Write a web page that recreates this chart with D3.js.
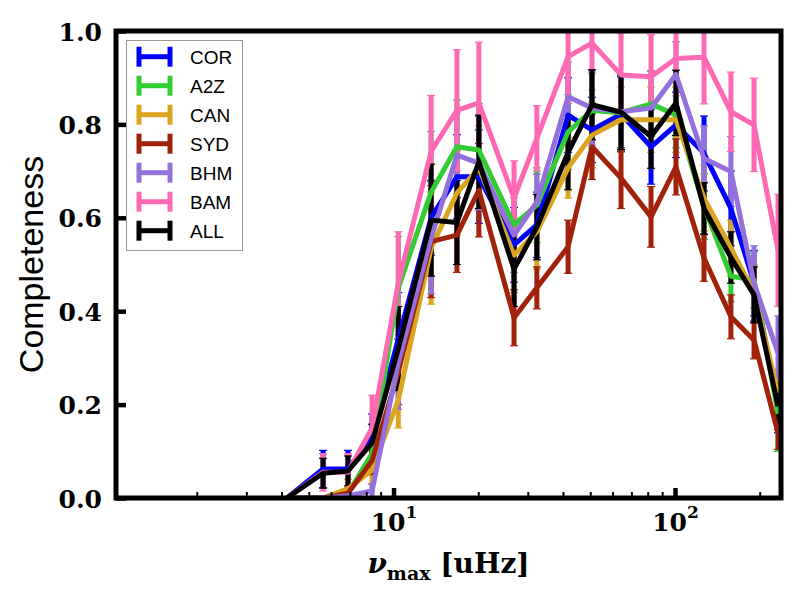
<!DOCTYPE html>
<meta charset="utf-8">
<title>Completeness</title>
<body>
<script src="https://cdn.jsdelivr.net/npm/d3@7"></script>
<style>
html, body {
    margin: 0;
    background: #fff;
}
svg {
    display: block;
}
.axis text {
    font-family: "DejaVu Serif";
    font-weight: bold;
    font-size: 25px;
    fill: #000;
}
.legend text {
    font-family: "Liberation Sans", Arial, sans-serif;
    font-size: 19px;
}
</style>
<svg></svg>
<script>
// bin centres, nu_max in uHz
var numax = [4.18, 5.62, 6.89, 8.39, 10.4, 13.6, 16.8, 20.1, 26.8, 32.3,
             41.7, 50.7, 64.3, 82.2, 100.8, 126.8, 158, 190.9, 232.3];

var cor    = [0, 0.062, 0.062, 0.13, 0.34, 0.60, 0.688, 0.688, 0.542, 0.585, 0.82, 0.788, 0.822, 0.752, 0.799, 0.738, 0.62, 0.46, 0.20];
var corErr = [0, 0.04, 0.04, 0.05, 0.10, 0.08, 0.09, 0.10, 0.08, 0.07, 0.08, 0.07, 0.08, 0.08, 0.07, 0.08, 0.08, 0.07, 0.06];

var a2z    = [0, 0, 0.01, 0.095, 0.45, 0.655, 0.752, 0.745, 0.585, 0.627, 0.784, 0.83, 0.825, 0.844, 0.82, 0.624, 0.475, 0.467, 0.18];
var a2zErr = [0, 0, 0.01, 0.04, 0.11, 0.13, 0.10, 0.10, 0.08, 0.08, 0.08, 0.08, 0.08, 0.07, 0.07, 0.07, 0.055, 0.06, 0.08];

var can    = [0, 0, 0.02, 0.06, 0.21, 0.535, 0.653, 0.707, 0.52, 0.57, 0.707, 0.777, 0.81, 0.81, 0.81, 0.642, 0.535, 0.44, 0.225];
var canErr = [0, 0, 0.02, 0.03, 0.06, 0.12, 0.09, 0.09, 0.08, 0.08, 0.065, 0.07, 0.07, 0.07, 0.07, 0.07, 0.06, 0.06, 0.05];

var syd    = [0, 0, 0.01, 0.08, 0.27, 0.549, 0.563, 0.659, 0.386, 0.45, 0.538, 0.752, 0.685, 0.602, 0.709, 0.514, 0.388, 0.338, 0.139];
var sydErr = [0, 0, 0.01, 0.03, 0.07, 0.12, 0.08, 0.10, 0.06, 0.045, 0.057, 0.07, 0.065, 0.065, 0.06, 0.05, 0.047, 0.04, 0.035];

var bhm    = [0, 0, 0.005, 0.015, 0.29, 0.557, 0.734, 0.717, 0.563, 0.634, 0.859, 0.835, 0.827, 0.835, 0.907, 0.727, 0.699, 0.46, 0.31];
var bhmErr = [0, 0, 0, 0.015, 0.10, 0.12, 0.09, 0.10, 0.08, 0.06, 0.075, 0.08, 0.08, 0.08, 0.07, 0.07, 0.075, 0.08, 0.08];

var bam    = [0, 0.055, 0.055, 0.15, 0.46, 0.742, 0.83, 0.846, 0.642, 0.77, 0.945, 0.974, 0.906, 0.902, 0.941, 0.944, 0.827, 0.799, 0.53];
var bamErr = [0, 0.04, 0.04, 0.07, 0.11, 0.12, 0.13, 0.13, 0.08, 0.07, 0.10, 0.10, 0.09, 0.09, 0.08, 0.10, 0.085, 0.10, 0.12];

var all    = [0, 0.053, 0.058, 0.118, 0.32, 0.595, 0.59, 0.72, 0.49, 0.58, 0.74, 0.842, 0.826, 0.774, 0.846, 0.62, 0.515, 0.435, 0.196];
var allErr = [0, 0.032, 0.032, 0.04, 0.09, 0.12, 0.09, 0.10, 0.08, 0.07, 0.08, 0.075, 0.08, 0.068, 0.07, 0.055, 0.055, 0.06, 0.05];

var names  = ["COR", "A2Z", "CAN", "SYD", "BHM", "BAM", "ALL"];
var colors = ["#0000ff", "#32cd32", "#daa520", "#a0220a", "#9370db", "#ff69b4", "#000000"];

var yTicks = [0, 0.2, 0.4, 0.6, 0.8, 1.0];
var xMajor = [10, 100];
var xMinor = [2, 3, 4, 5, 6, 7, 8, 9, 20, 30, 40, 50, 60, 70, 80, 90, 200];

var width = 800,
    height = 600,
    pL = 116,
    pR = 781,
    pT = 31,
    pB = 498,
    lw = 5;

var series = [
    {values: cor, err: corErr},
    {values: a2z, err: a2zErr},
    {values: can, err: canErr},
    {values: syd, err: sydErr},
    {values: bhm, err: bhmErr},
    {values: bam, err: bamErr},
    {values: all, err: allErr}
].map(function(s, k) {
    s.name = names[k];
    s.color = colors[k];
    s.points = numax.map(function(v, i) {
        return {x: v, y: s.values[i], e: s.err[i]};
    });
    return s;
});

var x = d3.scaleLog()
    .domain([1.033, 238])
    .range([pL, pR]);

var y = d3.scaleLinear()
    .domain([0, 1])
    .range([pB, pT]);

var svg = d3.select("svg")
    .attr("width", width)
    .attr("height", height)
    .style("background", "#fff");

svg.append("clipPath")
    .attr("id", "clip")
  .append("rect")
    .attr("x", pL)
    .attr("y", pT)
    .attr("width", pR - pL)
    .attr("height", pB - pT);

var plot = svg.append("g")
    .attr("clip-path", "url(#clip)");

// error bars sit below every data line (matplotlib zorder)
var bars = plot.selectAll(".bars")
    .data(series)
    .enter().append("g")
    .attr("class", "bars")
    .attr("stroke", function(d) { return d.color; });

var bar = bars.selectAll("g")
    .data(function(d) { return d.points.filter(function(p) { return p.e > 0; }); })
    .enter().append("g");

bar.append("line")
    .attr("x1", function(d) { return x(d.x); })
    .attr("x2", function(d) { return x(d.x); })
    .attr("y1", function(d) { return y(d.y - d.e); })
    .attr("y2", function(d) { return y(d.y + d.e); })
    .attr("stroke-width", lw);

[-1, 1].forEach(function(sgn) {
    bar.append("line")
        .attr("x1", function(d) { return x(d.x) - 4; })
        .attr("x2", function(d) { return x(d.x) + 4; })
        .attr("y1", function(d) { return y(d.y + sgn * d.e); })
        .attr("y2", function(d) { return y(d.y + sgn * d.e); })
        .attr("stroke-width", 1.2);
});

var line = d3.line()
    .x(function(d) { return x(d.x); })
    .y(function(d) { return y(d.y); });

plot.selectAll(".series")
    .data(series)
    .enter().append("path")
    .attr("class", "series")
    .attr("d", function(d) { return line(d.points); })
    .attr("fill", "none")
    .attr("stroke", function(d) { return d.color; })
    .attr("stroke-width", lw)
    .attr("stroke-linejoin", "round");

// axes
var yAxis = svg.append("g")
    .attr("class", "axis")
    .attr("transform", "translate(" + pL + ",0)")
    .call(d3.axisLeft(y).tickValues(yTicks).tickSize(-10).tickPadding(14).tickFormat(d3.format(".1f")));

yAxis.selectAll(".tick line").attr("stroke-width", 4.5);
yAxis.selectAll(".tick text").attr("dy", "0.36em");

var xMinorAxis = svg.append("g")
    .attr("class", "axis")
    .attr("transform", "translate(0," + pB + ")")
    .call(d3.axisBottom(x).tickValues(xMinor).tickSize(-6).tickFormat(""));

xMinorAxis.selectAll(".tick line").attr("stroke-width", 2);

var xAxis = svg.append("g")
    .attr("class", "axis")
    .attr("transform", "translate(0," + pB + ")")
    .call(d3.axisBottom(x).tickValues(xMajor).tickSize(-10).tickFormat(""));

xAxis.selectAll(".tick line").attr("stroke-width", 4.5);

xAxis.selectAll(".tick text")
    .attr("y", 33)
    .attr("dy", null)
    .each(function(d) {
        var t = d3.select(this);
        t.append("tspan").text("10");
        t.append("tspan")
            .attr("dy", -13)
            .attr("font-size", "17px")
            .text(Math.round(Math.log10(d)));
    });

svg.selectAll(".axis .domain").remove();

// spines
svg.append("rect")
    .attr("x", pL)
    .attr("y", pT)
    .attr("width", pR - pL)
    .attr("height", pB - pT)
    .attr("fill", "none")
    .attr("stroke", "#000")
    .attr("stroke-width", 5);

// axis labels
svg.append("text")
    .attr("transform", "translate(43," + (pT + pB) / 2 + ")rotate(-90)")
    .attr("text-anchor", "middle")
    .style("font-family", "'Liberation Sans', Arial, sans-serif")
    .style("font-size", "34px")
    .text("Completeness");

var xl = svg.append("text")
    .attr("x", (pL + pR) / 2)
    .attr("y", 573)
    .attr("text-anchor", "middle")
    .style("font-family", "'DejaVu Serif'")
    .style("font-weight", "bold")
    .style("font-size", "28px");

xl.append("tspan")
    .style("font-style", "italic")
    .text("\u03bd");
xl.append("tspan")
    .attr("dy", 7)
    .style("font-size", "19px")
    .text("max");
xl.append("tspan")
    .attr("dy", -7)
    .text("\u00a0[uHz]");

// legend
var legend = svg.append("g")
    .attr("class", "legend");

legend.append("rect")
    .attr("x", 126.5)
    .attr("y", 40.5)
    .attr("width", 116)
    .attr("height", 210)
    .attr("fill", "#fff")
    .attr("stroke", "#999")
    .attr("stroke-width", 1);

var item = legend.selectAll(".item")
    .data(series)
    .enter().append("g")
    .attr("class", "item")
    .attr("transform", function(d, i) { return "translate(0," + (56.7 + i * 29) + ")"; })
    .attr("stroke", function(d) { return d.color; });

item.append("line")
    .attr("x1", 139).attr("x2", 170)
    .attr("y1", 0).attr("y2", 0)
    .attr("stroke-width", lw);

[139, 170].forEach(function(px) {
    item.append("line")
        .attr("x1", px).attr("x2", px)
        .attr("y1", -10).attr("y2", 10)
        .attr("stroke-width", lw);
});

item.append("text")
    .attr("x", 190)
    .attr("y", 7)
    .attr("stroke", "none")
    .attr("fill", "#000")
    .text(function(d) { return d.name; });
</script>
